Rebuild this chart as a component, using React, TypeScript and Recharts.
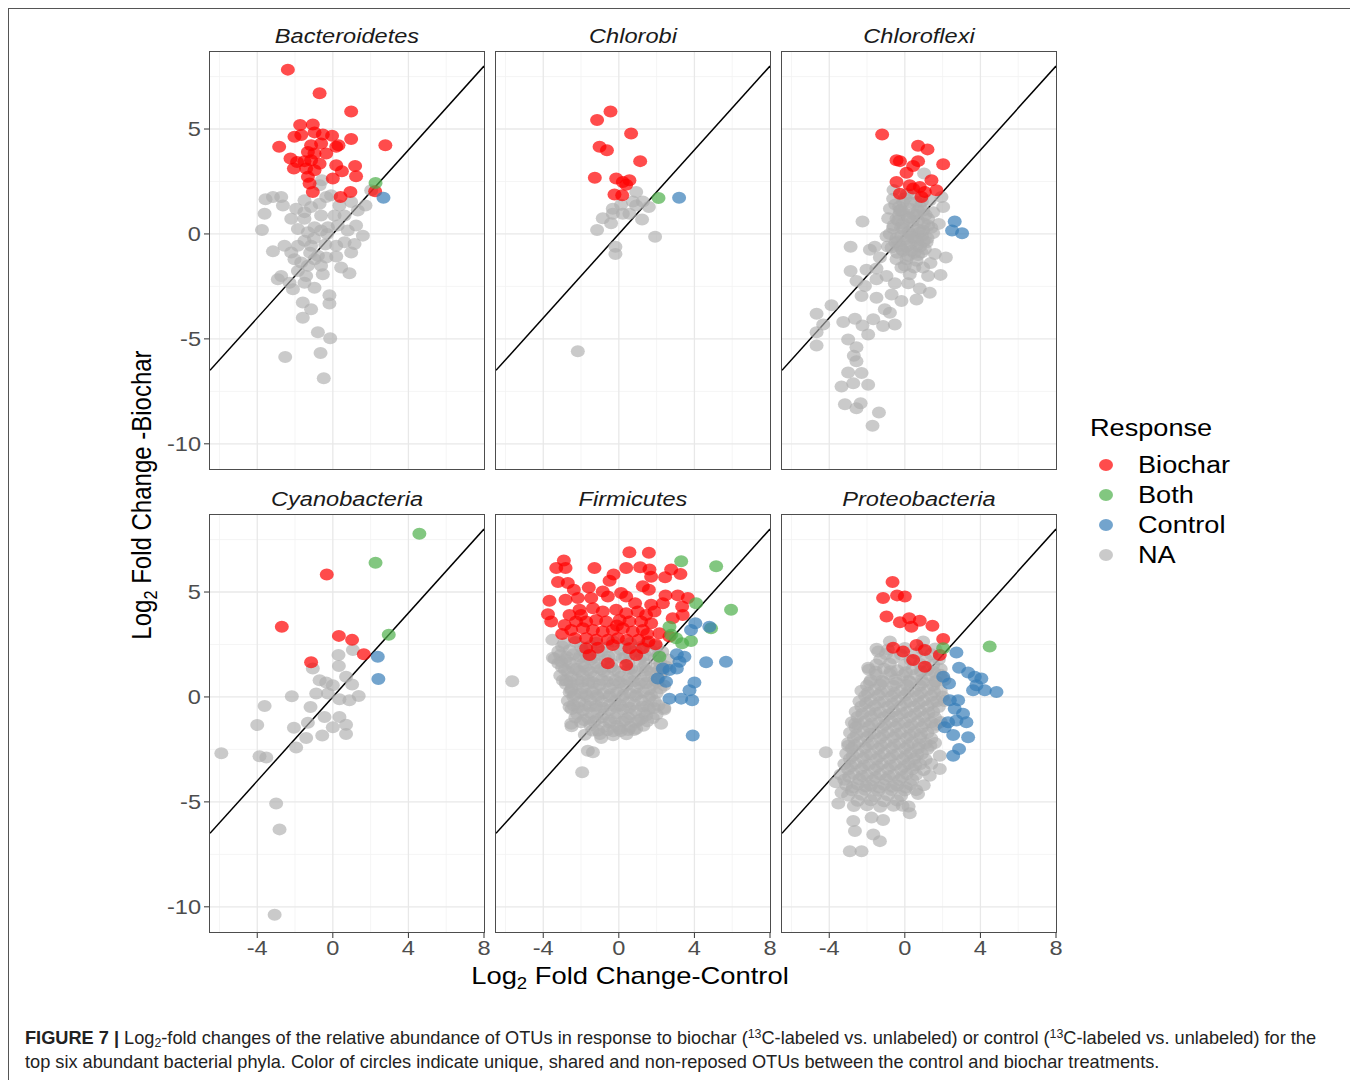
import React from 'react';
import { ScatterChart, Scatter, XAxis, YAxis, CartesianGrid, ReferenceLine } from 'recharts';

type Pt = [number, number];

// keep the page from showing scrollbars (the frame runs past the bottom edge)
if (typeof document !== 'undefined') {
  document.documentElement.style.overflow = 'hidden';
  document.body.style.overflow = 'hidden';
}

// axis setup shared by all six facets
const xDomain = [-6.5, 8];
const yDomain = [-11.2, 8.67];
const xTicks = [-4, 0, 4, 8];
const yTicks = [-10, -5, 0, 5];
const xMinor = [-6, -2, 2, 6];
const yMinor = [-7.5, -2.5, 2.5, 7.5];

const responses = ['Biochar', 'Both', 'Control', 'NA'];
const colors: Record<string, string> = {
  Biochar: '#FF0000',
  Both: '#4DAF4A',
  Control: '#377EB8',
  NA: '#ADADAD',
};
const alphas: Record<string, number> = { Biochar: 0.7, Both: 0.7, Control: 0.7, NA: 0.65 };

// ---- Bacteroidetes
const bactBiochar: Pt[] = [
  [-2.38, 7.83], [-0.7, 6.71], [0.97, 5.83], [2.78, 4.23], [-2.84, 4.15], [-1.73, 5.19], [-1.06, 5.22],
  [-2.03, 4.63], [-1.67, 4.71], [-0.97, 4.84], [-0.53, 4.74], [-0.04, 4.68], [0.97, 4.52], [0.3, 4.23],
  [0.18, 4.15], [-1.15, 4.23], [-0.62, 4.31], [-1.32, 3.91], [-0.97, 3.83], [-0.35, 3.83], [-2.24, 3.59],
  [-1.89, 3.43], [-1.5, 3.47], [-1.15, 3.51], [-0.7, 3.35], [-2.06, 3.12], [-1.41, 3.12], [-0.97, 3.04],
  [0.18, 3.27], [0.48, 2.99], [1.18, 3.24], [1.23, 2.75], [0.0, 2.64], [-1.32, 2.72], [-1.23, 2.4],
  [-1.06, 2.0], [0.41, 1.76], [0.93, 2.0], [2.24, 2.03],
];
const bactBoth: Pt[] = [[2.26, 2.43]];
const bactControl: Pt[] = [[2.68, 1.73]];
const bactNA: Pt[] = [
  [-3.56, 1.65], [-3.17, 1.76], [-2.73, 1.76], [-3.61, 0.96], [-3.75, 0.19], [-3.17, -0.83], [-2.56, -0.56],
  [-2.2, 0.72], [-1.5, 1.6], [-2.64, 1.36], [-1.94, 1.2], [-1.5, 1.04], [-1.15, 1.28], [-0.7, 1.44],
  [-0.35, 1.76], [-0.09, 1.84], [0.35, 1.36], [0.97, 1.52], [1.73, 1.36], [1.32, 1.12], [0.62, 0.88],
  [0.09, 0.88], [-0.62, 0.88], [-1.5, 0.72], [-1.85, 0.24], [-1.32, 0.08], [-0.97, 0.32], [-0.62, 0.16],
  [-0.26, 0.32], [0.26, 0.4], [0.79, 0.16], [1.23, 0.4], [1.59, -0.08], [1.15, -0.48], [0.97, -0.88],
  [0.62, -0.4], [0.18, -0.56], [0.18, -1.07], [-0.35, -1.12], [-0.79, -1.04], [-1.15, -0.56], [-1.5, -0.32],
  [-1.85, -0.56], [-2.2, -0.88], [-2.03, -1.2], [-1.67, -1.36], [-1.32, -1.52], [-0.97, -1.2], [-0.62, -1.52],
  [-0.53, -1.92], [0.44, -1.6], [0.88, -1.87], [-1.85, -1.76], [-2.73, -2.0], [-2.91, -2.16], [-2.29, -2.32],
  [-2.11, -2.64], [-1.5, -2.32], [-0.97, -2.56], [-1.41, -2.0], [-0.18, -2.92], [-0.18, -3.31], [-1.59, -3.27],
  [-1.15, -3.59], [-1.59, -3.99], [-0.79, -4.68], [-0.14, -4.97], [-0.65, -5.67], [-2.52, -5.86], [-0.48, -6.88],
  [-0.58, 2.56], [-0.7, 2.32], [2.03, 2.08], [-1.0, -0.2], [-0.4, -0.5], [-1.2, -0.9], [-0.3, 0.0],
];

// ---- Chlorobi
const chlbBiochar: Pt[] = [
  [-0.44, 5.83], [-1.15, 5.43], [0.65, 4.79], [-1.02, 4.15], [-0.63, 3.99], [1.13, 3.47], [-1.27, 2.68],
  [-0.14, 2.64], [0.21, 2.48], [0.56, 2.56], [0.39, 2.35], [-0.23, 1.88], [0.18, 1.84],
];
const chlbBoth: Pt[] = [[2.1, 1.71]];
const chlbControl: Pt[] = [[3.19, 1.73]];
const chlbNA: Pt[] = [
  [0.92, 2.0], [0.74, 1.55], [1.27, 1.55], [1.59, 1.28], [-0.32, 1.2], [0.12, 1.39], [0.92, 1.36],
  [0.56, 0.96], [0.21, 0.96], [-0.32, 0.96], [-0.85, 0.75], [-0.41, 0.51], [-1.15, 0.19], [1.23, 0.69],
  [1.92, -0.13], [-0.18, -0.61], [-0.18, -0.96], [-2.17, -5.59],
];

// ---- Chloroflexi
const chlfBiochar: Pt[] = [
  [-1.2, 4.74], [0.7, 4.2], [1.2, 4.03], [-0.44, 3.51], [-0.26, 3.47], [0.7, 3.47], [0.44, 3.24],
  [2.03, 3.32], [0.09, 2.92], [-0.44, 2.48], [0.26, 2.32], [0.79, 2.24], [1.41, 2.56], [1.67, 2.08],
  [-0.26, 1.92], [1.06, 2.0], [0.88, 1.76], [0.44, 2.16],
];
const chlfBoth: Pt[] = [];
const chlfControl: Pt[] = [[2.64, 0.59], [2.5, 0.16], [3.03, 0.03]];
const chlfNA: Pt[] = [
  [1.02, 2.88], [-0.62, 1.68], [-0.09, 1.52], [0.62, 1.52], [1.32, 1.6], [1.94, 1.76], [2.03, 1.28],
  [-0.79, 1.2], [-0.26, 1.12], [0.26, 1.2], [0.97, 1.12], [1.5, 1.04], [-0.88, 0.75], [-0.35, 0.64],
  [0.18, 0.72], [0.7, 0.64], [1.23, 0.72], [1.8, 0.48], [-2.24, 0.59], [-0.62, 0.27], [-0.09, 0.24],
  [0.44, 0.32], [0.97, 0.16], [1.5, 0.05], [-0.97, -0.11], [-0.44, -0.21], [0.09, -0.24], [0.62, -0.32],
  [1.15, -0.4], [-2.87, -0.61], [-1.85, -0.75], [-1.59, -0.61], [-0.7, -0.64], [-0.18, -0.72], [0.35, -0.8],
  [0.88, -0.88], [1.59, -0.96], [2.17, -1.12], [-1.32, -1.12], [-0.44, -1.2], [0.09, -1.2], [0.62, -1.28],
  [1.36, -1.39], [-2.87, -1.76], [-2.03, -1.71], [-1.5, -1.65], [-0.97, -2.0], [-0.18, -1.6], [0.26, -1.92],
  [0.97, -1.6], [1.23, -2.0], [1.89, -1.95], [-2.56, -2.24], [-2.11, -2.48], [-1.5, -2.16], [-0.53, -2.35],
  [0.18, -2.35], [0.79, -2.6], [1.32, -2.8], [0.62, -3.12], [-0.18, -3.19], [-0.7, -2.88], [-1.5, -3.04],
  [-2.29, -2.96], [-3.88, -3.4], [-4.67, -3.8], [-4.32, -4.31], [-4.67, -4.68], [-4.67, -5.32], [-3.26, -4.2],
  [-2.64, -4.04], [-2.24, -4.36], [-1.94, -4.79], [-1.67, -4.07], [-1.15, -4.39], [-0.53, -4.31], [-0.79, -3.75],
  [-1.06, -3.59], [-3.0, -5.03], [-2.56, -5.4], [-2.7, -5.8], [-2.56, -6.07], [-3.0, -6.6], [-2.29, -6.63],
  [-3.35, -7.27], [-2.73, -7.11], [-1.94, -7.19], [-3.17, -8.12], [-2.56, -8.31], [-2.34, -8.07], [-1.37, -8.51],
  [-1.71, -9.14], [-0.09, 1.04], [0.44, 0.96], [0.79, 0.08], [0.26, 0.0], [-0.26, -0.56], [0.62, -0.56],
  [1.06, -0.72], [0.18, -1.04], [-0.44, 0.72], [1.23, 0.4], [0.0, 1.7], [0.5, 1.9], [-0.6, 2.1],
  [-0.5, 1.4], [0.3, 1.5], [0.8, 1.3], [-0.3, 0.9], [0.6, 0.9], [1.0, 0.5], [-0.1, 0.5], [0.4, 0.6],
  [-0.6, 0.4], [0.2, 0.1], [0.9, -0.1], [-0.2, -0.1], [0.5, -0.2], [-0.5, -0.4], [0.3, -0.5], [0.8, -0.6],
  [-0.1, -0.8], [0.5, -0.9], [1.2, -0.2], [1.4, 0.3], [-0.8, 0.0], [-0.9, -0.6], [0.0, -1.5], [0.5, -1.6],
  [0.1, 1.9], [-0.3, 1.3], [1.1, 0.9], [0.7, 0.2], [-0.4, -0.9],
  [0.2, 0.8], [0.7, 1.1], [-0.2, 0.3], [0.35, -0.15], [1.0, -0.35], [-0.35, -0.35], [0.1, -0.6],
  [0.7, -1.0], [-0.2, 1.15], [0.9, 1.55],
];

// ---- Cyanobacteria
const cyanBiochar: Pt[] = [
  [-0.32, 5.83], [-2.7, 3.35], [0.32, 2.91], [1.02, 2.72], [1.64, 2.04], [-1.15, 1.65],
];
const cyanBoth: Pt[] = [[4.58, 7.78], [2.26, 6.39], [2.96, 2.96]];
const cyanControl: Pt[] = [[2.38, 1.92], [2.41, 0.85]];
const cyanNA: Pt[] = [
  [0.3, 2.0], [1.06, 2.24], [0.32, 1.47], [-1.06, 1.36], [-0.7, 0.8], [-0.35, 0.69], [0.0, 0.56],
  [0.7, 0.96], [1.02, 0.59], [-0.88, 0.16], [-0.26, 0.16], [0.35, -0.11], [0.88, -0.16], [1.37, 0.05],
  [-2.17, 0.03], [-3.61, -0.43], [-1.18, -0.48], [-0.44, -0.96], [0.35, -0.96], [0.7, -1.33], [0.7, -1.76],
  [0.0, -1.44], [-0.56, -1.84], [-1.32, -1.23], [-2.06, -1.47], [-1.41, -1.96], [-1.94, -2.41], [-4.0, -1.34],
  [-5.9, -2.68], [-3.88, -2.83], [-3.52, -2.88], [-3.0, -5.08], [-2.82, -6.31], [-3.08, -10.38],
];

// ---- Firmicutes
const firmBiochar: Pt[] = [
  [0.56, 6.9], [1.59, 6.87], [-2.91, 6.5], [-3.31, 6.15], [-2.82, 6.15], [-1.29, 6.15], [0.39, 6.15],
  [1.13, 6.18], [1.62, 6.07], [2.77, 6.07], [3.26, 5.86], [2.45, 5.7], [1.71, 5.73], [-0.28, 5.83],
  [-0.49, 5.54], [-3.22, 5.48], [-2.7, 5.43], [1.27, 5.27], [1.59, 5.11], [-1.59, 5.22], [-2.38, 5.11],
  [-0.85, 5.03], [0.12, 4.95], [0.39, 4.79], [2.47, 4.84], [3.12, 4.84], [3.65, 4.71], [-3.67, 4.58],
  [-2.82, 4.63], [-2.17, 4.71], [-1.46, 4.71], [-0.58, 4.79], [0.86, 4.47], [1.71, 4.39], [2.33, 4.47],
  [3.35, 4.31], [-3.75, 3.94], [-2.61, 3.91], [-2.08, 4.15], [-1.37, 4.23], [-0.85, 4.07], [-0.14, 4.15],
  [0.39, 3.99], [1.0, 4.07], [1.44, 3.91], [1.89, 4.07], [2.85, 3.75], [3.38, 3.91], [-3.58, 3.59],
  [-2.87, 3.43], [-2.26, 3.59], [-1.73, 3.59], [-1.2, 3.67], [-0.67, 3.59], [0.04, 3.67], [0.56, 3.59],
  [1.18, 3.59], [1.71, 3.51], [-2.52, 3.19], [-1.9, 3.27], [-1.37, 3.19], [-0.85, 3.12], [-0.32, 3.19],
  [0.21, 3.27], [0.74, 3.12], [1.27, 3.19], [2.15, 3.04], [2.68, 2.88], [-2.33, 2.8], [-1.73, 2.8],
  [-1.2, 2.72], [-0.58, 2.72], [-0.05, 2.8], [0.42, 2.72], [1.04, 2.72], [1.57, 2.64], [1.94, 2.51],
  [-1.73, 2.32], [-1.11, 2.35], [-0.32, 2.48], [0.56, 2.32], [1.27, 2.32], [-1.55, 2.0], [-0.58, 1.6],
  [0.39, 1.52], [0.92, 2.0], [-3.0, 3.0], [-2.0, 3.9], [-0.1, 3.4], [1.5, 3.0],
];
const firmBoth: Pt[] = [
  [3.3, 6.47], [5.15, 6.23], [4.09, 4.47], [5.94, 4.15], [4.88, 3.27], [2.68, 3.35], [3.03, 2.8],
  [3.35, 2.56], [3.82, 2.67], [2.15, 1.92], [2.77, 2.96],
];
const firmControl: Pt[] = [
  [4.05, 3.51], [3.82, 3.19], [4.79, 3.35], [3.07, 2.03], [3.47, 1.92], [3.21, 1.68], [3.07, 1.36],
  [4.62, 1.65], [5.67, 1.68], [4.0, 0.69], [3.74, 0.32], [3.3, -0.08], [3.88, -0.16], [2.68, -0.08],
  [2.5, 0.72], [2.06, 0.88], [3.91, -1.84], [2.68, 1.28], [2.33, 1.36],
];
const firmNA: Pt[] = [
  [-5.64, 0.75], [-3.52, 2.72], [-3.49, 1.87], [-3.05, 1.68], [-2.96, 0.8], [-2.52, 0.32], [-2.61, -0.48],
  [-2.52, -1.28], [-1.64, -2.56], [-1.37, -2.64], [-1.94, -3.59], [-0.93, -1.96], [2.24, -1.28], [2.41, -0.53],
  [1.44, -0.88], [0.92, -1.52], [0.04, -1.52],
  [-2.9, 2.55], [-2.3, 2.62], [-1.2, 2.58], [-0.3, 2.64], [0.6, 2.57], [1.5, 2.6],
  [-3.2, 2.18], [-2.6, 2.24], [-1.9, 2.2], [-0.9, 2.16], [0.1, 2.25], [0.9, 2.19], [1.7, 2.22], [2.3, 2.15],
  [-3.4, 1.82], [-2.8, 1.76], [-2.1, 1.84], [-1.5, 1.78], [-0.7, 1.8], [0.2, 1.85], [1.1, 1.77], [1.9, 1.83], [2.6, 1.79],
  [-3.0, 1.42], [-2.4, 1.37], [-1.8, 1.44], [-1.1, 1.39], [-0.4, 1.43], [0.5, 1.36], [1.3, 1.41], [2.0, 1.38], [2.5, 1.45],
  [-3.1, 1.02], [-2.5, 0.97], [-1.9, 1.04], [-1.3, 0.98], [-0.6, 1.01], [0.1, 0.96], [0.8, 1.03], [1.5, 0.99], [2.2, 1.05],
  [-2.8, 0.62], [-2.2, 0.57], [-1.6, 0.64], [-1.0, 0.58], [-0.3, 0.61], [0.4, 0.56], [1.1, 0.63], [1.8, 0.59], [2.4, 0.55],
  [-2.6, 0.22], [-2.0, 0.17], [-1.4, 0.24], [-0.8, 0.18], [-0.1, 0.21], [0.6, 0.16], [1.3, 0.23], [2.0, 0.19],
  [-2.7, -0.18], [-2.1, -0.23], [-1.5, -0.16], [-0.9, -0.22], [-0.2, -0.19], [0.5, -0.24], [1.2, -0.17], [1.9, -0.21],
  [-2.5, -0.58], [-1.9, -0.63], [-1.2, -0.56], [-0.5, -0.62], [0.2, -0.59], [0.9, -0.64], [1.6, -0.57], [2.4, -0.6],
  [-2.3, -0.98], [-1.6, -1.03], [-0.9, -0.97], [-0.2, -1.02], [0.5, -0.99], [1.2, -1.04], [1.8, -1.0],
  [-2.5, -1.4], [-1.5, -1.36], [-0.8, -1.43], [-0.1, -1.38], [0.6, -1.42], [1.3, -1.37],
  [-1.8, -1.8], [-1.0, -1.76], [-0.3, -1.83], [0.4, -1.78],
  // second, offset pass through the dense core
  [-3.0, 2.4], [-2.0, 2.38], [-1.5, 2.43], [-0.6, 2.37], [0.3, 2.42], [1.2, 2.39], [2.0, 2.41],
  [-3.1, 2.0], [-2.4, 2.03], [-1.7, 1.98], [-1.1, 2.02], [-0.2, 1.99], [0.6, 2.04], [1.4, 1.97], [2.1, 2.01],
  [-3.2, 1.6], [-2.6, 1.63], [-1.9, 1.58], [-1.2, 1.62], [-0.4, 1.59], [0.5, 1.64], [1.4, 1.57], [2.2, 1.61],
  [-2.7, 1.2], [-2.1, 1.23], [-1.5, 1.18], [-0.8, 1.22], [0.0, 1.19], [0.9, 1.24], [1.7, 1.17], [2.3, 1.21],
  [-2.8, 0.8], [-2.2, 0.83], [-1.6, 0.78], [-0.9, 0.82], [-0.2, 0.79], [0.5, 0.84], [1.2, 0.77], [1.9, 0.81],
  [-2.5, 0.4], [-1.9, 0.43], [-1.2, 0.38], [-0.5, 0.42], [0.2, 0.39], [0.9, 0.44], [1.6, 0.37], [2.2, 0.41],
  [-2.4, 0.0], [-1.7, 0.03], [-1.1, -0.02], [-0.5, 0.02], [0.2, -0.01], [0.9, 0.04], [1.6, -0.03],
  [-2.4, -0.4], [-1.8, -0.37], [-1.2, -0.42], [-0.5, -0.38], [0.1, -0.41], [0.8, -0.36], [1.5, -0.43], [2.1, -0.39],
  [-2.2, -0.8], [-1.5, -0.77], [-0.8, -0.82], [-0.1, -0.78], [0.6, -0.81], [1.3, -0.76], [2.0, -0.83],
  [-2.0, -1.2], [-1.3, -1.17], [-0.5, -1.22], [0.2, -1.18], [0.9, -1.21], [1.5, -1.16],
  [-1.4, -1.6], [-0.6, -1.57], [0.1, -1.62], [0.8, -1.58],
  // third pass, core only
  [-2.75, 1.9], [-2.05, 1.93], [-1.35, 1.88], [-0.55, 1.92], [0.35, 1.89], [1.25, 1.94],
  [-2.85, 1.3], [-2.25, 1.33], [-1.65, 1.28], [-0.95, 1.32], [-0.25, 1.29], [0.65, 1.34], [1.45, 1.27], [2.15, 1.31],
  [-2.55, 0.7], [-1.95, 0.73], [-1.35, 0.68], [-0.65, 0.72], [0.05, 0.69], [0.75, 0.74], [1.45, 0.67], [2.05, 0.71],
  [-2.35, 0.1], [-1.75, 0.13], [-1.15, 0.08], [-0.45, 0.12], [0.25, 0.09], [0.95, 0.14], [1.7, 0.07],
  [-2.15, -0.5], [-1.55, -0.47], [-0.85, -0.52], [-0.15, -0.48], [0.55, -0.51], [1.25, -0.46], [1.85, -0.53],
  [-1.85, -1.1], [-1.15, -1.07], [-0.45, -1.12], [0.35, -1.08], [1.05, -1.11],
  [-1.1, -1.6], [-0.3, -1.63], [0.5, -1.58],
];

// ---- Proteobacteria
const protBiochar: Pt[] = [
  [-0.65, 5.48], [-1.15, 4.71], [-0.41, 4.84], [0.0, 4.79], [-0.97, 3.83], [-0.26, 3.56], [0.23, 3.75],
  [0.79, 3.63], [0.35, 3.35], [1.46, 3.39], [2.03, 2.76], [-0.62, 2.35], [-0.09, 2.16], [0.62, 2.48],
  [1.06, 2.24], [0.44, 1.76], [1.06, 1.44], [1.85, 2.0],
];
const protBoth: Pt[] = [[4.49, 2.4], [2.03, 2.32]];
const protControl: Pt[] = [
  [2.73, 2.12], [2.87, 1.39], [3.35, 1.17], [3.7, 0.96], [4.05, 0.88], [3.79, 0.56], [4.23, 0.32],
  [4.85, 0.24], [3.61, 0.32], [2.03, 0.96], [2.34, 0.64], [2.38, -0.16], [2.82, -0.16], [2.64, -0.56],
  [3.08, -0.8], [3.26, -1.2], [2.73, -1.12], [2.29, -1.2], [2.56, -1.81], [3.35, -1.92], [2.87, -2.48],
  [2.56, -2.8], [2.11, -1.44],
];
const protNA: Pt[] = [
  [-4.18, -2.64], [-1.94, 1.39], [-1.41, 2.16], [-0.79, 2.64], [0.97, 2.64], [-2.64, -1.28], [-3.0, -2.32],
  [-3.52, -5.08], [-2.73, -5.91], [-2.64, -6.39], [-2.91, -7.35], [-2.29, -7.35], [-1.67, -6.55], [-1.32, -6.87],
  [-1.15, -5.86], [-1.76, -5.75], [0.26, -5.54], [-0.12, -5.19], [0.7, -4.63], [1.32, -3.75], [1.85, -3.43],
  [1.85, -2.8], [-3.65, -4.07], [-3.35, -4.55],
  [-1.5, 2.3], [-0.9, 2.26], [0.0, 2.33], [0.9, 2.28], [1.6, 2.31],
  [-1.3, 1.8], [-0.6, 1.84], [0.3, 1.77], [1.1, 1.82], [1.8, 1.79],
  [-1.9, 1.3], [-1.1, 1.34], [-0.4, 1.27], [0.4, 1.32], [1.2, 1.28], [1.9, 1.33],
  [-1.8, 0.8], [-1.2, 0.77], [-0.5, 0.83], [0.2, 0.78], [0.9, 0.82], [1.6, 0.76], [2.1, 0.81],
  [-2.3, 0.3], [-1.6, 0.34], [-0.9, 0.27], [-0.2, 0.32], [0.5, 0.28], [1.2, 0.33], [1.9, 0.29],
  [-2.4, -0.2], [-1.8, -0.16], [-1.1, -0.23], [-0.4, -0.18], [0.3, -0.22], [1.0, -0.17], [1.7, -0.21], [2.1, -0.19],
  [-2.6, -0.7], [-1.9, -0.66], [-1.3, -0.73], [-0.6, -0.68], [0.1, -0.72], [0.8, -0.67], [1.5, -0.71],
  [-2.8, -1.2], [-2.1, -1.16], [-1.4, -1.23], [-0.7, -1.18], [0.0, -1.22], [0.7, -1.17], [1.4, -1.21], [1.9, -1.19],
  [-2.9, -1.7], [-2.2, -1.66], [-1.6, -1.73], [-0.9, -1.68], [-0.2, -1.72], [0.5, -1.67], [1.2, -1.71],
  [-3.0, -2.2], [-2.4, -2.16], [-1.7, -2.23], [-1.0, -2.18], [-0.3, -2.22], [0.4, -2.17], [1.1, -2.21], [1.6, -2.19],
  [-3.1, -2.7], [-2.5, -2.66], [-1.8, -2.73], [-1.1, -2.68], [-0.4, -2.72], [0.3, -2.67], [0.9, -2.71],
  [-3.2, -3.2], [-2.6, -3.16], [-1.9, -3.23], [-1.2, -3.18], [-0.5, -3.22], [0.2, -3.17], [0.8, -3.21], [1.4, -3.19],
  [-3.4, -3.7], [-2.7, -3.66], [-2.0, -3.73], [-1.3, -3.68], [-0.6, -3.72], [0.1, -3.67], [0.6, -3.71],
  [-3.1, -4.2], [-2.5, -4.16], [-1.8, -4.23], [-1.1, -4.18], [-0.4, -4.22], [0.3, -4.17], [1.0, -4.21],
  [-3.0, -4.7], [-2.3, -4.66], [-1.6, -4.73], [-0.9, -4.68], [-0.2, -4.72],
  [-2.7, -5.2], [-2.0, -5.16], [-1.3, -5.23], [-0.6, -5.18], [0.2, -5.22],
  // second, offset pass through the band
  [-1.0, 2.05], [-0.2, 2.02], [0.6, 2.07], [1.4, 2.03],
  [-1.5, 1.55], [-0.8, 1.58], [0.0, 1.53], [0.8, 1.57], [1.5, 1.54],
  [-1.5, 1.05], [-0.8, 1.08], [-0.1, 1.03], [0.6, 1.07], [1.3, 1.04], [1.9, 1.06],
  [-2.0, 0.55], [-1.3, 0.58], [-0.6, 0.53], [0.1, 0.57], [0.8, 0.54], [1.5, 0.56],
  [-2.1, 0.05], [-1.4, 0.08], [-0.7, 0.03], [0.0, 0.07], [0.7, 0.04], [1.4, 0.06], [2.0, 0.02],
  [-2.3, -0.45], [-1.6, -0.42], [-0.9, -0.47], [-0.2, -0.43], [0.5, -0.46], [1.2, -0.44], [1.8, -0.48],
  [-2.5, -0.95], [-1.8, -0.92], [-1.1, -0.97], [-0.4, -0.93], [0.3, -0.96], [1.0, -0.94], [1.6, -0.98],
  [-2.6, -1.45], [-1.9, -1.42], [-1.2, -1.47], [-0.5, -1.43], [0.2, -1.46], [0.9, -1.44], [1.5, -1.48],
  [-2.7, -1.95], [-2.0, -1.92], [-1.3, -1.97], [-0.6, -1.93], [0.1, -1.96], [0.8, -1.94], [1.4, -1.98],
  [-2.8, -2.45], [-2.1, -2.42], [-1.4, -2.47], [-0.7, -2.43], [0.0, -2.46], [0.7, -2.44], [1.2, -2.48],
  [-2.9, -2.95], [-2.2, -2.92], [-1.5, -2.97], [-0.8, -2.93], [-0.1, -2.96], [0.5, -2.94], [1.1, -2.98],
  [-3.0, -3.45], [-2.3, -3.42], [-1.6, -3.47], [-0.9, -3.43], [-0.2, -3.46], [0.4, -3.44], [1.0, -3.48],
  [-3.2, -3.95], [-2.4, -3.92], [-1.7, -3.97], [-1.0, -3.93], [-0.3, -3.96], [0.4, -3.94],
  [-2.8, -4.45], [-2.1, -4.42], [-1.4, -4.47], [-0.7, -4.43], [0.0, -4.46], [0.6, -4.44],
  [-2.5, -4.95], [-1.8, -4.92], [-1.1, -4.97], [-0.4, -4.93],
  // third pass, core only
  [-1.55, 1.2], [-0.75, 1.23], [0.05, 1.18], [0.85, 1.22], [1.55, 1.19],
  [-1.85, 0.7], [-1.15, 0.73], [-0.45, 0.68], [0.25, 0.72], [0.95, 0.69], [1.65, 0.74],
  [-1.95, 0.2], [-1.25, 0.23], [-0.55, 0.18], [0.15, 0.22], [0.85, 0.19], [1.55, 0.24],
  [-2.05, -0.3], [-1.35, -0.27], [-0.65, -0.32], [0.05, -0.28], [0.75, -0.31], [1.45, -0.26],
  [-2.25, -0.8], [-1.55, -0.77], [-0.85, -0.82], [-0.15, -0.78], [0.55, -0.81], [1.25, -0.76],
  [-2.45, -1.3], [-1.75, -1.27], [-1.05, -1.32], [-0.35, -1.28], [0.35, -1.31], [1.05, -1.26], [1.65, -1.33],
  [-2.55, -1.8], [-1.85, -1.77], [-1.15, -1.82], [-0.45, -1.78], [0.25, -1.81], [0.85, -1.76],
  [-2.65, -2.3], [-1.95, -2.27], [-1.25, -2.32], [-0.55, -2.28], [0.15, -2.31], [0.75, -2.26], [1.35, -2.33],
  [-2.75, -2.8], [-2.05, -2.77], [-1.35, -2.82], [-0.65, -2.78], [0.05, -2.81], [0.65, -2.76],
  [-2.85, -3.3], [-2.15, -3.27], [-1.45, -3.32], [-0.75, -3.28], [-0.05, -3.31], [0.55, -3.26],
  [-2.95, -3.8], [-2.25, -3.77], [-1.55, -3.82], [-0.85, -3.78], [-0.15, -3.81],
  [-2.75, -4.3], [-2.05, -4.27], [-1.35, -4.32], [-0.65, -4.28], [0.05, -4.31],
];

const panelNames = ['Bacteroidetes', 'Chlorobi', 'Chloroflexi', 'Cyanobacteria', 'Firmicutes', 'Proteobacteria'];
const panelSeries: Record<string, Pt[]>[] = [
  { Biochar: bactBiochar, Both: bactBoth, Control: bactControl, NA: bactNA },
  { Biochar: chlbBiochar, Both: chlbBoth, Control: chlbControl, NA: chlbNA },
  { Biochar: chlfBiochar, Both: chlfBoth, Control: chlfControl, NA: chlfNA },
  { Biochar: cyanBiochar, Both: cyanBoth, Control: cyanControl, NA: cyanNA },
  { Biochar: firmBiochar, Both: firmBoth, Control: firmControl, NA: firmNA },
  { Biochar: protBiochar, Both: protBoth, Control: protControl, NA: protNA },
];

// layout (px, relative to the framed box)
const PANEL_LEFT = [201, 487, 773];
const PANEL_TOP = [43, 506];
const PW = 274;
const PH = 417;
const Y_AXIS_W = 60;
const X_AXIS_H = 40;
const RIGHT_PAD = 14;
const SX = 1.18; // the original figure is stretched horizontally
const FONT = '"Liberation Sans", Arial, Helvetica, sans-serif';

const toPts = (a: Pt[]) => a.map(([x, y]) => ({ x, y }));

const dotShape = (resp: string) => (props: any) => (
  <ellipse cx={props.cx} cy={props.cy} rx={7} ry={6} fill={colors[resp]} fillOpacity={alphas[resp]} />
);

const makeTick = (dy: string) => (props: any) => {
  const { x, y, payload, textAnchor } = props;
  return (
    <text
      transform={`translate(${x},${y}) scale(${SX},1)`}
      textAnchor={textAnchor}
      dy={dy}
      fontSize={20}
      fill="#4d4d4d"
      fontFamily={FONT}
    >
      {payload.value}
    </text>
  );
};
const xTick = makeTick('0.75em');
const yTick = makeTick('0.36em');

function Panel({ idx }: { idx: number }) {
  const col = idx % 3;
  const row = Math.floor(idx / 3);
  const showY = col === 0;
  const showX = row === 1;
  const padR = showX ? RIGHT_PAD : 0;
  const w = PW + (showY ? Y_AXIS_W : 0) + padR;
  const h = PH + (showX ? X_AXIS_H : 0);
  const left = PANEL_LEFT[col] - (showY ? Y_AXIS_W : 0);
  const top = PANEL_TOP[row];
  const series = panelSeries[idx];
  const drawOrder = ['NA', 'Biochar', 'Both', 'Control'];

  return (
    <>
      <div
        style={{
          position: 'absolute', left: PANEL_LEFT[col], top: top - 28, width: PW, height: 24,
          textAlign: 'center', fontStyle: 'italic', fontSize: 20, lineHeight: '24px', color: '#1a1a1a',
          transform: `scaleX(${SX})`, whiteSpace: 'nowrap',
        }}
      >
        {panelNames[idx]}
      </div>
      <div style={{ position: 'absolute', left, top }}>
        <ScatterChart width={w} height={h} margin={{ top: 0, right: padR, bottom: 0, left: 0 }}>
          <CartesianGrid stroke="#f3f3f3" strokeWidth={0.8} horizontalValues={yMinor} verticalValues={xMinor} />
          <CartesianGrid stroke="#e8e8e8" strokeWidth={1.3} horizontalValues={[...yTicks]} verticalValues={[-4, 0, 4]} />
          <XAxis
            type="number" dataKey="x" domain={xDomain} ticks={xTicks} interval={0} allowDataOverflow
            hide={!showX} height={X_AXIS_H} tick={xTick} tickSize={6} tickMargin={2}
            tickLine={{ stroke: '#333' }} axisLine={false}
          />
          <YAxis
            type="number" dataKey="y" domain={yDomain} ticks={yTicks} interval={0} allowDataOverflow
            hide={!showY} width={Y_AXIS_W} tick={yTick} tickSize={6} tickMargin={3}
            tickLine={{ stroke: '#333' }} axisLine={false}
          />
          {drawOrder.map((resp) =>
            series[resp].length ? (
              <Scatter
                key={resp}
                name={resp}
                data={toPts(series[resp])}
                shape={dotShape(resp)}
                isAnimationActive={false}
              />
            ) : null
          )}
          <ReferenceLine
            segment={[{ x: xDomain[0], y: xDomain[0] }, { x: xDomain[1], y: xDomain[1] }]}
            stroke="#000" strokeWidth={1.5} ifOverflow="hidden"
          />
        </ScatterChart>
      </div>
      <div
        style={{
          position: 'absolute', left: PANEL_LEFT[col] - 1, top: top - 1, width: PW + 2, height: PH + 2,
          border: '1px solid #4d4d4d', boxSizing: 'border-box', pointerEvents: 'none',
        }}
      />
    </>
  );
}

function Legend() {
  return (
    <div style={{ position: 'absolute', left: 1081, top: 405 }}>
      <div
        style={{
          fontSize: 23, lineHeight: '28px', color: '#000', transform: `scaleX(${SX})`, transformOrigin: 'left center',
        }}
      >
        Response
      </div>
      {responses.map((r, i) => (
        <div key={r} style={{ position: 'absolute', top: 36 + i * 30, left: 0, width: 160, height: 30 }}>
          <svg width={30} height={30} style={{ position: 'absolute', left: 2, top: 0 }}>
            <ellipse cx={14} cy={15} rx={7} ry={6} fill={colors[r]} fillOpacity={alphas[r]} />
          </svg>
          <div
            style={{
              position: 'absolute', left: 48, top: 0, fontSize: 23, lineHeight: '30px', color: '#000',
              transform: `scaleX(${SX})`, transformOrigin: 'left center', whiteSpace: 'nowrap',
            }}
          >
            {r}
          </div>
        </div>
      ))}
    </div>
  );
}

const sub = { fontSize: '0.68em', verticalAlign: '-0.28em', lineHeight: 0 };
const sup = { fontSize: '0.68em', verticalAlign: '0.45em', lineHeight: 0 };

export default function App() {
  return (
    <div
      style={{
        position: 'relative', width: 1347, height: 1090, border: '1px solid #555', boxSizing: 'border-box',
        overflow: 'hidden', background: '#fff', fontFamily: FONT,
      }}
    >
      {panelNames.map((_, i) => (
        <Panel key={i} idx={i} />
      ))}
      <div
        style={{
          position: 'absolute', left: 133 - 200, top: 486 - 15, width: 400, height: 30, textAlign: 'center',
          transform: `rotate(-90deg) scaleY(${SX})`, fontSize: 24, lineHeight: '30px', color: '#000',
          whiteSpace: 'nowrap',
        }}
      >
        Log<span style={sub}>2</span> Fold Change -Biochar
      </div>
      <div
        style={{
          position: 'absolute', left: 621 - 200, top: 967 - 15, width: 400, height: 30, textAlign: 'center',
          fontSize: 24, lineHeight: '30px', color: '#000', whiteSpace: 'nowrap', transform: `scaleX(1.14)`,
        }}
      >
        Log<span style={sub}>2</span> Fold Change-Control
      </div>
      <Legend />
      <div
        style={{
          position: 'absolute', left: 16, top: 1017, fontSize: 18.2, lineHeight: '24px', color: '#222',
          whiteSpace: 'nowrap',
        }}
      >
        <div>
          <b>FIGURE 7 |</b> Log<span style={sub}>2</span>-fold changes of the relative abundance of OTUs in response to
          biochar (<span style={sup}>13</span>C-labeled vs. unlabeled) or control (<span style={sup}>13</span>C-labeled vs.
          unlabeled) for the
        </div>
        <div>
          top six abundant bacterial phyla. Color of circles indicate unique, shared and non-reposed OTUs between the
          control and biochar treatments.
        </div>
      </div>
    </div>
  );
}
